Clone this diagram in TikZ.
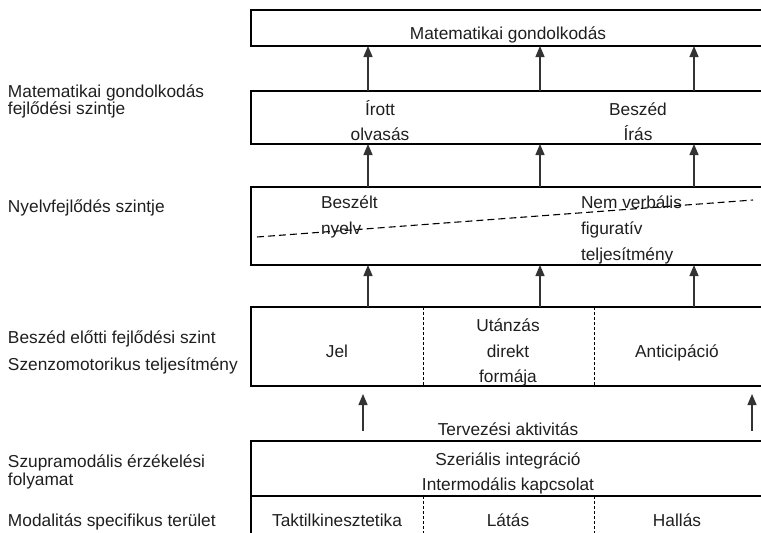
\documentclass[tikz,border=0pt]{standalone}
\usepackage{fontspec}
\setmainfont{Liberation Sans}
\usetikzlibrary{arrows.meta}
\begin{document}
\begin{tikzpicture}[x=1pt,y=-1pt,
  every node/.style={inner sep=0pt, outer sep=0pt, text=black!88, font=\fontsize{17.3}{26}\selectfont},
  box/.style={draw=black, line width=1.2pt, anchor=north west, minimum width=540pt},
  lbl/.style={anchor=base west},
  txt/.style={anchor=base},
  arr/.style={draw=black!80, line width=1.3pt, -{Triangle[width=9pt,length=11pt]}},
  divider/.style={draw=black, line width=0.7pt, dash pattern=on 3pt off 2pt},
  split/.style={draw=black, line width=1.1pt, dash pattern=on 7pt off 4pt}]
\clip (0,0) rectangle (761,533);
% boxes
\node[box, minimum height=36pt] (b1) at (251,10) {};
\node[box, minimum height=53pt] (b2) at (251,91) {};
\node[box, minimum height=78pt] (b3) at (251,187) {};
\node[box, minimum height=79pt] (b4) at (251,307) {};
\node[box, minimum height=55pt] (b5) at (251,441) {};
\node[box, minimum height=60pt] (b6) at (251,496) {};
% column coordinates
\coordinate (c1) at (368,0);
\coordinate (c2) at (540,0);
\coordinate (c3) at (694,0);
\coordinate (d1) at (423,0);
\coordinate (d2) at (594,0);
% dividers
\draw[divider] (b4.north -| d1) -- (b4.south -| d1);
\draw[divider] (b4.north -| d2) -- (b4.south -| d2);
\draw[divider] (b6.north -| d1) -- (b6.south -| d1);
\draw[divider] (b6.north -| d2) -- (b6.south -| d2);
% arrows between levels
\foreach \c in {c1,c2,c3}{
  \draw[arr] (b2.north -| \c) -- (b1.south -| \c);
  \draw[arr] (b3.north -| \c) -- (b2.south -| \c);
  \draw[arr] (b4.north -| \c) -- (b3.south -| \c);
}
% lower free arrows
\coordinate (la0) at (363,431);
\coordinate (la1) at (363,394);
\coordinate (ra0) at (752,431);
\coordinate (ra1) at (752,394);
\draw[arr] (la0) -- (la1);
\draw[arr] (ra0) -- (ra1);
% dashed split line
\coordinate (s0) at (257,237);
\coordinate (s1) at (753,200);
\draw[split] (s0) -- (s1);
% left labels
\node[lbl] (l1) at (8,97.5) {Matematikai gondolkodás};
\node[lbl] (l2) at (8,114.5) {fejlődési szintje};
\node[lbl] (l3) at (8,212) {Nyelvfejlődés szintje};
\node[lbl] (l4) at (8,343) {Beszéd előtti fejlődési szint};
\node[lbl] (l5) at (8,370) {Szenzomotorikus teljesítmény};
\node[lbl] (l6) at (8,467) {Szupramodális érzékelési};
\node[lbl] (l7) at (8,485) {folyamat};
\node[lbl] (l8) at (8,526) {Modalitás specifikus terület};
% box 1
\node[txt] (t1) at (508,39) {Matematikai gondolkodás};
% box 2
\node[txt] (t2a) at (380,115) {Írott};
\node[txt] (t2b) at (380,140) {olvasás};
\node[txt] (t2c) at (638,115) {Beszéd};
\node[txt] (t2d) at (638,140) {Írás};
% box 3
\node[lbl] (t3a) at (321,208) {Beszélt};
\node[lbl] (t3b) at (321,234) {nyelv};
\node[lbl] (t3c) at (581,208) {Nem verbális};
\node[lbl] (t3d) at (581,234) {figuratív};
\node[lbl] (t3e) at (581,260) {teljesítmény};
% box 4
\node[txt] (t4a) at (337,357) {Jel};
\node[txt] (t4b) at (508,331) {Utánzás};
\node[txt] (t4c) at (508,357) {direkt};
\node[txt] (t4d) at (508,382) {formája};
\node[txt] (t4e) at (677,357) {Anticipáció};
% between
\node[txt] (t5) at (508,435) {Tervezési aktivitás};
% box 5
\node[txt] (t6a) at (508,465) {Szeriális integráció};
\node[txt] (t6b) at (508,490) {Intermodális kapcsolat};
% box 6
\node[txt] (t7a) at (337,526) {Taktilkinesztetika};
\node[txt] (t7b) at (508,526) {Látás};
\node[txt] (t7c) at (677,526) {Hallás};
\end{tikzpicture}
\end{document}
